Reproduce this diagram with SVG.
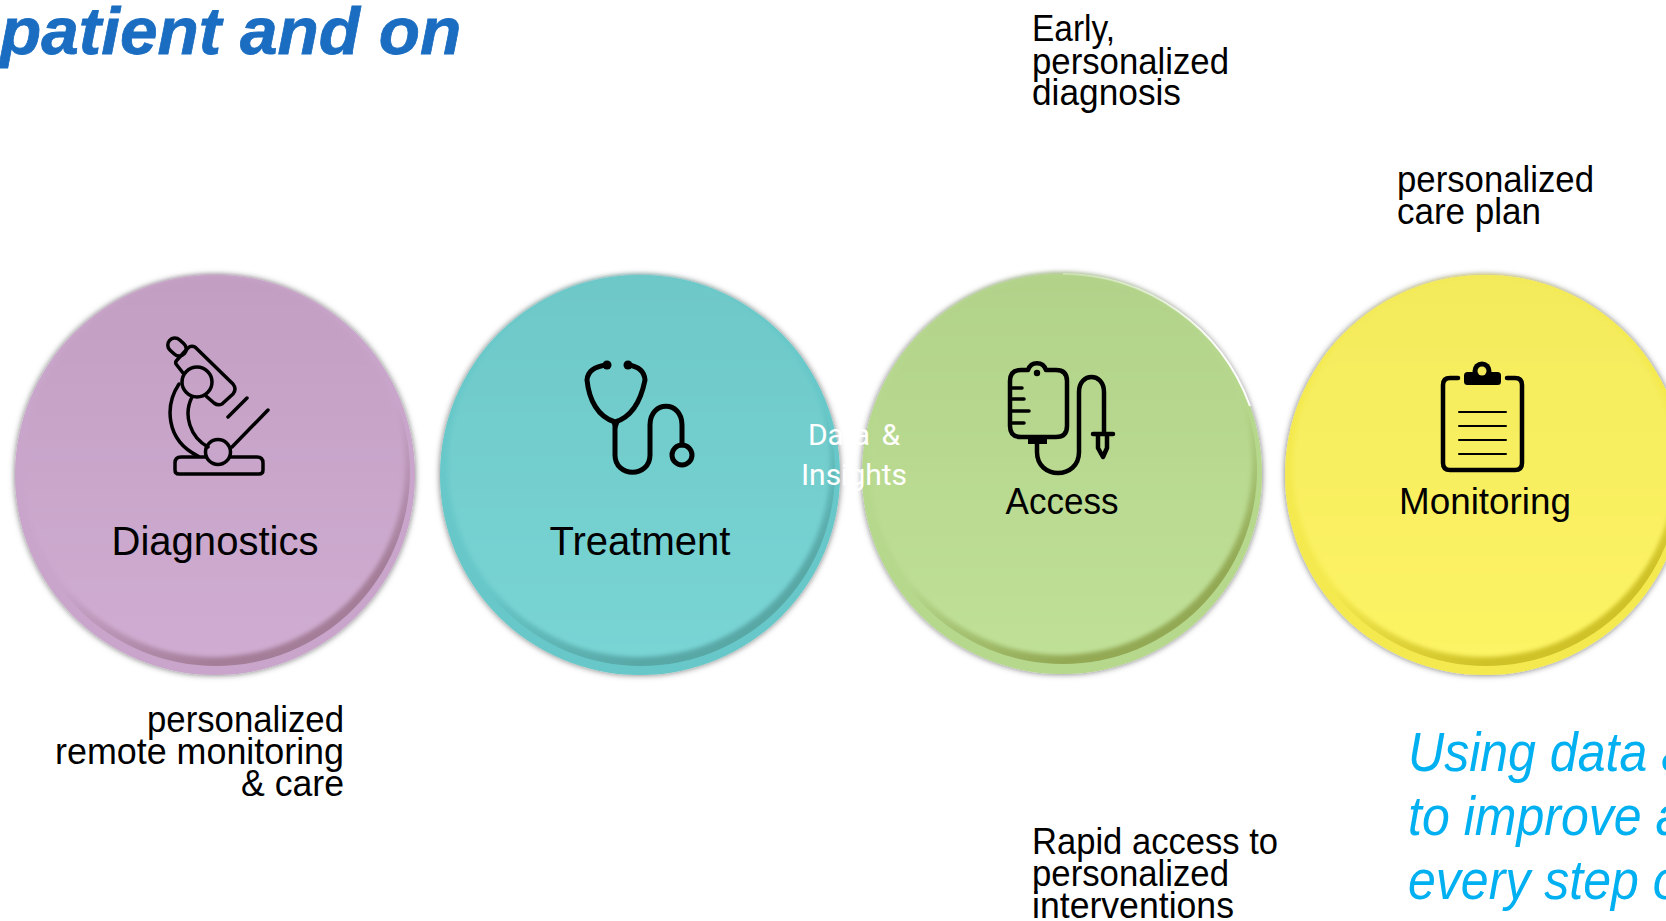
<svg xmlns="http://www.w3.org/2000/svg" width="1666" height="921" viewBox="0 0 1666 921">
<defs>
<filter id="sh" x="-10%" y="-10%" width="120%" height="120%"><feDropShadow dx="0" dy="0" stdDeviation="3" flood-color="#000" flood-opacity="0.55"/></filter>
<filter id="in" x="-10%" y="-10%" width="120%" height="120%"><feGaussianBlur stdDeviation="2"/></filter>
<linearGradient id="gp" x1="0" y1="0" x2="0" y2="1"><stop offset="0" stop-color="#c29fc2"/><stop offset="1" stop-color="#d0acd2"/></linearGradient>
<linearGradient id="gt" x1="0" y1="0" x2="0" y2="1"><stop offset="0" stop-color="#6ec8c8"/><stop offset="1" stop-color="#79d4d4"/></linearGradient>
<linearGradient id="gg" x1="0" y1="0" x2="0" y2="1"><stop offset="0" stop-color="#b2d28a"/><stop offset="1" stop-color="#bfe096"/></linearGradient>
<linearGradient id="gy" x1="0" y1="0" x2="0" y2="1"><stop offset="0" stop-color="#f3ea5c"/><stop offset="1" stop-color="#fdf465"/></linearGradient>
<linearGradient id="dp" x1="0.2" y1="0.1" x2="0.7" y2="1"><stop offset="0.55" stop-color="#c9a5cb"/><stop offset="0.9" stop-color="#a47e98"/></linearGradient>
<linearGradient id="dt" x1="0.2" y1="0.1" x2="0.7" y2="1"><stop offset="0.55" stop-color="#68c8c9"/><stop offset="0.9" stop-color="#58a8a6"/></linearGradient>
<linearGradient id="dg" x1="0.2" y1="0.1" x2="0.7" y2="1"><stop offset="0.55" stop-color="#b6d88d"/><stop offset="0.9" stop-color="#93a954"/></linearGradient>
<linearGradient id="dy" x1="0.2" y1="0.1" x2="0.7" y2="1"><stop offset="0.55" stop-color="#f4ea50"/><stop offset="0.9" stop-color="#cfc228"/></linearGradient>
</defs>
<style>
text{font-family:"Liberation Sans",Arial,sans-serif;fill:#000}
.lab{font-size:36px;text-anchor:middle}
.big{font-size:41px}
.cap{font-size:36px}
.tag{font-style:italic;font-size:55px;fill:#00b0f0}
.ic{fill:none;stroke:#000;stroke-linecap:round;stroke-linejoin:round}
.di{font-family:Roboto,sans-serif;font-size:30px;fill:#fff;text-anchor:middle}
</style>
<rect width="1666" height="921" fill="#fff"/>
<text id="title" x="0" y="54" style="font-size:67.500px;font-weight:bold;font-style:italic;fill:#1a6dc1;stroke:#1a6dc1;stroke-width:0.800px">patient and on</text>
<g id="node-diagnostics">
<circle cx="215" cy="475" r="200" fill="#c9a5cb" filter="url(#sh)"/>
<circle cx="216" cy="472" r="194" fill="url(#dp)"/>
<circle cx="214" cy="466" r="191" fill="url(#gp)" filter="url(#in)"/>
<g class="ic" stroke-width="3.500">
<rect x="167" y="340" width="20" height="14" rx="7" transform="rotate(42 177 347)"/>
<path d="M183 373L176 364Q175 362 177 360L188 348Q191 345 195 347L233 384Q237 389 233 394L222 404Q218 406 214 403L206 396"/>
<circle cx="197" cy="382" r="15"/>
<path d="M179 384C165 405 165 440 198 456M192 397C183 415 190 437 208 447M228 417L247 398M232 447L268 410"/>
<circle cx="218" cy="452" r="12.500"/>
<path d="M206 457H181Q175 457 175 463V470Q175 474 179 474H259Q263 474 263 470V463Q263 457 257 457H230"/>
</g>
<text class="lab big" x="215" y="555" textLength="207" lengthAdjust="spacingAndGlyphs">Diagnostics</text>
</g>
<g id="node-treatment">
<circle cx="640" cy="475" r="200" fill="#68c8c9" filter="url(#sh)"/>
<circle cx="641" cy="472" r="194" fill="url(#dt)"/>
<circle cx="639" cy="466" r="191" fill="url(#gt)" filter="url(#in)"/>
<g class="ic" stroke-width="5">
<path d="M607 365Q588 367 587 380C589 400 598 417 615 422C632 417 641 400 645 380Q644 367 628 365M615 422V455C615 478 650 478 650 455V425C650 400 682 400 682 425V445"/>
<circle cx="682" cy="455" r="10"/>
</g>
<circle cx="607" cy="365" r="4.500" fill="#000"/><circle cx="628" cy="365" r="4.500" fill="#000"/>
<path d="M611 421H620L617 429H614Z" fill="#000"/>
<text class="lab big" x="640" y="555" textLength="181" lengthAdjust="spacingAndGlyphs">Treatment</text>
</g>
<g id="node-access">
<circle cx="1062" cy="474" r="200" fill="#b6d88d" filter="url(#sh)"/>
<path d="M1063 274A200 200 0 0 1 1250 406" fill="none" stroke="#fff" stroke-width="2"/>
<circle cx="1063" cy="470" r="194" fill="url(#dg)"/>
<circle cx="1061" cy="464" r="191" fill="url(#gg)" filter="url(#in)"/>
<g class="ic" stroke-width="4.500">
<path d="M1028 370C1031 361 1043 361 1046 370H1056Q1067 370 1067 381V426Q1067 437 1056 437H1021Q1010 437 1010 426V381Q1010 370 1021 370Z"/>
<path stroke-width="3.500" d="M1010 388H1022M1010 399H1024M1010 411H1029M1010 423H1024"/>
<path d="M1037 443V452C1037 480 1079 480 1079 452V392C1079 372 1104 372 1104 392V433M1093 434H1113M1098 435V448L1103 457L1107 448V435"/>
</g>
<rect x="1028" y="437" width="19" height="7" fill="#000"/>
<circle cx="1037" cy="373" r="3.200" fill="#000"/>
<text class="lab" x="1062" y="514" textLength="113" lengthAdjust="spacingAndGlyphs">Access</text>
</g>
<g id="node-monitoring">
<circle cx="1485" cy="475" r="200" fill="#f4ea50" filter="url(#sh)"/>
<circle cx="1486" cy="472" r="194" fill="url(#dy)"/>
<circle cx="1484" cy="466" r="191" fill="url(#gy)" filter="url(#in)"/>
<g class="ic" stroke-width="4.500">
<path d="M1458 378H1450Q1443 378 1443 385V463Q1443 470 1450 470H1515Q1522 470 1522 463V385Q1522 378 1515 378H1507"/>
</g>
<rect x="1464" y="372" width="37" height="13" rx="3.500" fill="#000"/>
<circle cx="1482" cy="371" r="9.500" fill="#000"/>
<circle cx="1482" cy="371" r="4.500" fill="#f3ea5c"/>
<g class="ic" stroke-width="2"><path d="M1459 412H1506M1459 426H1506M1459 440H1506M1459 454H1506"/></g>
<text class="lab" x="1485" y="514" textLength="172" lengthAdjust="spacingAndGlyphs">Monitoring</text>
</g>
<g id="data-insights">
<text class="di" x="854" y="445" word-spacing="4">Data &amp;</text>
<text class="di" x="854" y="485">Insights</text>
</g>
<g id="captions">
<text class="cap" x="1032" y="40.500" textLength="83" lengthAdjust="spacingAndGlyphs">Early,</text>
<text class="cap" x="1032" y="73.500" textLength="197" lengthAdjust="spacingAndGlyphs">personalized</text>
<text class="cap" x="1032" y="105" textLength="149" lengthAdjust="spacingAndGlyphs">diagnosis</text>
<text class="cap" x="1397" y="192" textLength="197" lengthAdjust="spacingAndGlyphs">personalized</text>
<text class="cap" x="1397" y="224" textLength="144" lengthAdjust="spacingAndGlyphs">care plan</text>
<text class="cap" x="147" y="732" textLength="197" lengthAdjust="spacingAndGlyphs">personalized</text>
<text class="cap" x="55" y="764" textLength="289" lengthAdjust="spacingAndGlyphs">remote monitoring</text>
<text class="cap" x="241" y="796" textLength="103" lengthAdjust="spacingAndGlyphs">&amp; care</text>
<text class="cap" x="1032" y="854" textLength="246" lengthAdjust="spacingAndGlyphs">Rapid access to</text>
<text class="cap" x="1032" y="886" textLength="197" lengthAdjust="spacingAndGlyphs">personalized</text>
<text class="cap" x="1032" y="918" textLength="202" lengthAdjust="spacingAndGlyphs">interventions</text>
</g>
<g id="tagline">
<text class="tag" transform="translate(1408 771) scale(.91 1)">Using data a</text>
<text class="tag" transform="translate(1408 835) scale(.91 1)">to improve a</text>
<text class="tag" transform="translate(1408 899) scale(.91 1)">every step o</text>
</g>
</svg>
